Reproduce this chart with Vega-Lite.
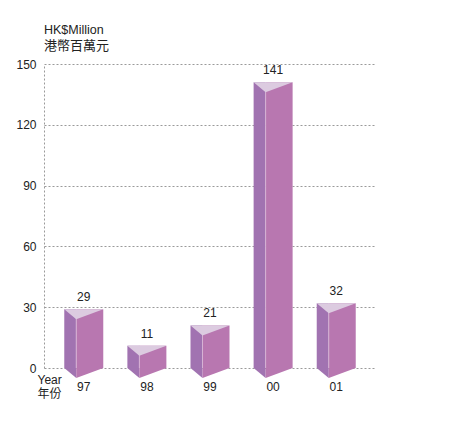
{
  "$schema": "https://vega.github.io/schema/vega-lite/v6.json",
  "width": 332,
  "height": 304,
  "padding": {"left": 15, "top": 23, "right": 5, "bottom": 5},
  "background": "white",
  "config": {
    "font": "Liberation Sans, Noto Sans CJK TC",
    "view": {"stroke": null}
  },
  "title": {
    "text": "HK$Million",
    "subtitle": "港幣百萬元",
    "anchor": "start",
    "frame": "group",
    "fontSize": 12.5,
    "fontWeight": "normal",
    "color": "#222222",
    "subtitleFontSize": 13,
    "subtitleColor": "#222222",
    "subtitleFont": "Noto Sans CJK TC",
    "subtitlePadding": 4,
    "offset": 5
  },
  "data": {
    "values": [
      {"year": "97", "value": 29},
      {"year": "98", "value": 11},
      {"year": "99", "value": 21},
      {"year": "00", "value": 141},
      {"year": "01", "value": 32}
    ]
  },
  "encoding": {
    "x": {
      "field": "year",
      "type": "ordinal",
      "sort": null,
      "scale": {"paddingInner": 0, "paddingOuter": 0.13},
      "axis": {
        "title": ["Year", "年份"],
        "titleFontSize": 12,
        "titleFontWeight": "normal",
        "titleColor": "#222222",
        "titleAlign": "left",
        "titleBaseline": "top",
        "titleAnchor": "start",
        "titleX": -7,
        "titleY": 6,
        "titleLineHeight": 14,
        "labelAngle": 0,
        "labelFontSize": 12,
        "labelColor": "#222222",
        "labelPadding": 13,
        "domain": false,
        "ticks": false
      }
    },
    "y": {
      "field": "value",
      "type": "quantitative",
      "scale": {"domain": [0, 150], "nice": false},
      "axis": {
        "title": null,
        "values": [0, 30, 60, 90, 120, 150],
        "labelFontSize": 12,
        "labelColor": "#222222",
        "labelPadding": 8,
        "ticks": false,
        "domain": true,
        "domainColor": "#9a9a9a",
        "domainDash": [2, 2],
        "domainWidth": 1,
        "grid": true,
        "gridColor": "#9a9a9a",
        "gridDash": [2, 2],
        "gridWidth": 1,
        "gridOpacity": 1
      }
    }
  },
  "layer": [
    {"mark": {"type": "bar", "width": 12, "xOffset": -13.5, "color": "#a173b1"}},
    {"mark": {"type": "bar", "width": 27, "xOffset": 6, "color": "#b877b0"}},
    {"mark": {"type": "bar", "width": 1, "xOffset": -7.5, "color": "#d6b2d4"}},
    {
      "mark": {"type": "point", "shape": "M-1,0L1,0L-0.385,0.513Z", "size": 1521, "filled": true, "opacity": 1, "color": "#dccbe0", "strokeWidth": 0}
    },
    {
      "mark": {"type": "point", "shape": "M-1,0L-0.385,0L-0.385,0.513Z", "size": 1521, "filled": true, "opacity": 1, "color": "#a173b1", "strokeWidth": 0},
      "encoding": {"y": {"datum": 0}}
    },
    {
      "mark": {"type": "point", "shape": "M-0.385,0L1,0L-0.385,0.513Z", "size": 1521, "filled": true, "opacity": 1, "color": "#b877b0", "strokeWidth": 0},
      "encoding": {"y": {"datum": 0}}
    },
    {
      "mark": {"type": "text", "baseline": "alphabetic", "dy": -8, "fontSize": 12, "color": "#222222"},
      "encoding": {"text": {"field": "value", "type": "quantitative"}}
    }
  ]
}
